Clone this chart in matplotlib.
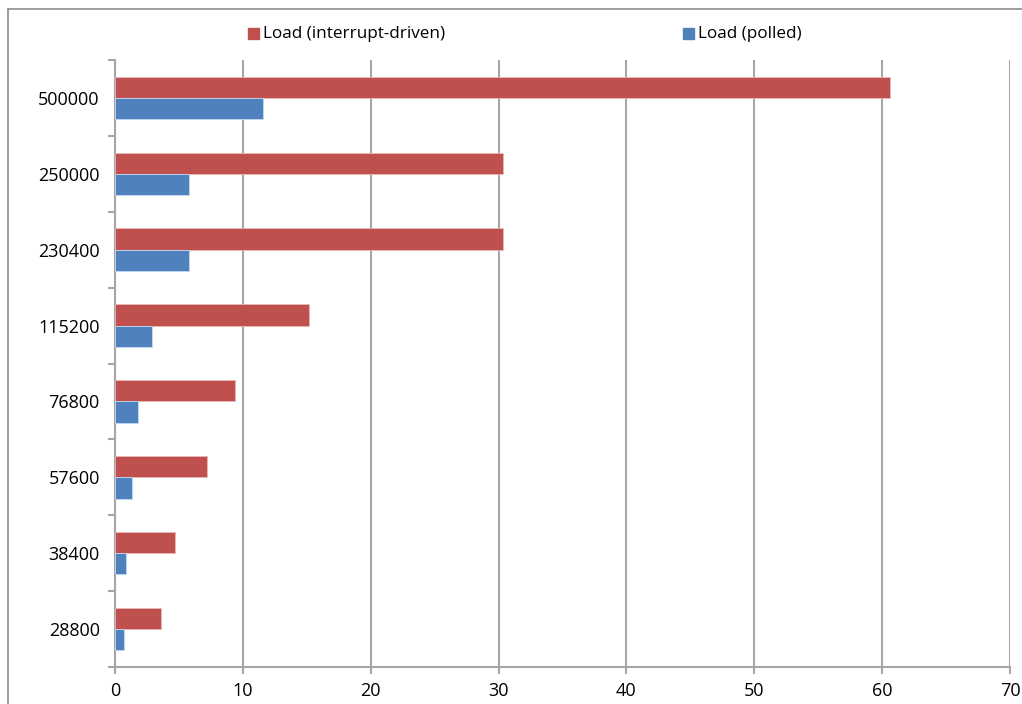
import matplotlib.pyplot as plt
from matplotlib.lines import Line2D
from matplotlib.patches import Rectangle

# baud rates, bottom to top
bauds = ["28800", "38400", "57600", "76800", "115200", "230400", "250000", "500000"]
load_irq = [3.56, 4.66, 7.16, 9.35, 15.18, 30.36, 30.36, 60.65]
load_polled = [0.67, 0.88, 1.35, 1.77, 2.89, 5.8, 5.8, 11.6]

RED = "#C0504D"
BLUE = "#4F81BD"
GRID = "#A6A6A6"

plt.rcParams["font.family"] = ["Open Sans", "DejaVu Sans"]

fig = plt.figure(figsize=(10.22, 7.04), dpi=100)
ax = fig.add_axes([115 / 1022, 1 - 667 / 704, 895 / 1022, 607 / 704])

pos = list(range(len(bauds)))
h = 0.28
ax.barh([p + h / 2 for p in pos], load_irq, height=h, color=RED,
        edgecolor="#E6B8B7", linewidth=0.6, zorder=3)
ax.barh([p - h / 2 for p in pos], load_polled, height=h, color=BLUE,
        edgecolor="#C6D9F1", linewidth=0.6, zorder=3)

ax.set_xlim(0, 70)
ax.set_ylim(-0.5, len(bauds) - 0.5)
ax.set_xticks(range(0, 71, 10))
ax.set_yticks(pos)
ax.set_yticklabels(bauds)
ax.set_yticks([p - 0.5 for p in range(len(bauds) + 1)], minor=True)

ax.grid(axis="x", color=GRID, linewidth=1.5, zorder=0)
for side in ("top", "right"):
    ax.spines[side].set_visible(False)
for side in ("left", "bottom"):
    ax.spines[side].set_color(GRID)
    ax.spines[side].set_linewidth(1.5)

ax.tick_params(axis="x", length=5, width=1.5, color=GRID, labelsize=13,
               pad=6, labelcolor="black")
ax.tick_params(axis="y", which="major", length=0, labelsize=13, pad=11)
ax.tick_params(axis="y", which="minor", length=5, width=1.5, color=GRID)

# chart frame (left and top edges)
fig.add_artist(Line2D([7.5 / 1022, 7.5 / 1022], [0, 1 - 9 / 704],
                      transform=fig.transFigure, color="#8C8C8C", lw=1.2))
fig.add_artist(Line2D([7.5 / 1022, 1], [1 - 9 / 704, 1 - 9 / 704],
                      transform=fig.transFigure, color="#8C8C8C", lw=1.2))

# legend along the top
legend_items = [(248, RED, "Load (interrupt-driven)"), (683, BLUE, "Load (polled)")]
for x, c, label in legend_items:
    fig.add_artist(Rectangle((x / 1022, 1 - 39 / 704), 11 / 1022, 11 / 704,
                             transform=fig.transFigure, color=c))
    fig.text((x + 15) / 1022, 1 - 33.5 / 704, label, fontsize=12.3, va="center")

fig.savefig("out.png", dpi=100)
